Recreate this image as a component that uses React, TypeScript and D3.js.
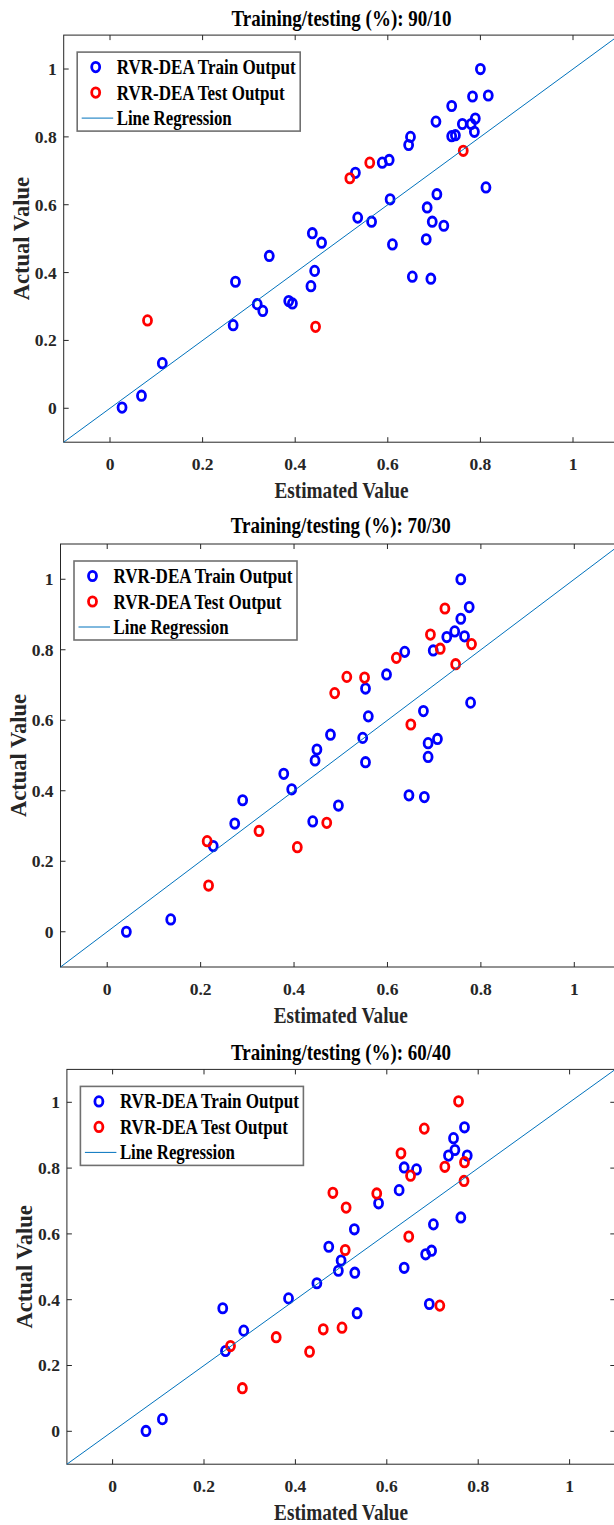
import React from "react";
import * as d3 from "d3";

// values
const titles = [
  "Training/testing (%): 90/10",
  "Training/testing (%): 70/30",
  "Training/testing (%): 60/40",
];
const legendLabels = ["RVR-DEA Train Output", "RVR-DEA Test Output", "Line Regression"];
const tickValues = [0, 0.2, 0.4, 0.6, 0.8, 1];
const tickLabels = ["0", "0.2", "0.4", "0.6", "0.8", "1"];
const regressionX = [-0.1, 1.1];
const regressionY = [-0.1, 1.1];

const train90: [number, number][] = [
  [0.8, 1.0], [0.817, 0.922], [0.783, 0.919], [0.738, 0.891], [0.704, 0.845],
  [0.761, 0.838], [0.789, 0.854], [0.78, 0.838], [0.787, 0.815], [0.738, 0.802],
  [0.746, 0.805], [0.649, 0.8], [0.645, 0.776], [0.588, 0.724], [0.603, 0.732],
  [0.53, 0.694], [0.812, 0.651], [0.706, 0.631], [0.605, 0.616], [0.685, 0.592],
  [0.696, 0.55], [0.721, 0.538], [0.535, 0.562], [0.565, 0.55], [0.61, 0.483],
  [0.683, 0.498], [0.437, 0.516], [0.457, 0.488], [0.344, 0.449], [0.442, 0.405],
  [0.434, 0.36], [0.653, 0.388], [0.693, 0.382], [0.271, 0.373], [0.318, 0.307],
  [0.33, 0.287], [0.386, 0.316], [0.394, 0.309], [0.266, 0.245], [0.113, 0.133],
  [0.068, 0.037], [0.026, 0.002],
];
const test90: [number, number][] = [
  [0.518, 0.678], [0.561, 0.724], [0.763, 0.759], [0.081, 0.259], [0.444, 0.24],
];

const train70: [number, number][] = [
  [0.757, 1.0], [0.775, 0.921], [0.757, 0.888], [0.744, 0.852], [0.727, 0.836],
  [0.765, 0.838], [0.698, 0.798], [0.637, 0.794], [0.598, 0.73], [0.553, 0.69],
  [0.559, 0.611], [0.778, 0.65], [0.677, 0.626], [0.478, 0.559], [0.547, 0.55],
  [0.687, 0.535], [0.707, 0.547], [0.449, 0.517], [0.445, 0.486], [0.553, 0.481],
  [0.687, 0.496], [0.378, 0.448], [0.395, 0.404], [0.29, 0.373], [0.646, 0.387],
  [0.679, 0.382], [0.495, 0.358], [0.44, 0.313], [0.273, 0.307], [0.227, 0.243],
  [0.136, 0.035], [0.041, 0.0],
];
const test70: [number, number][] = [
  [0.723, 0.917], [0.692, 0.843], [0.713, 0.803], [0.78, 0.816], [0.746, 0.759],
  [0.619, 0.777], [0.513, 0.723], [0.551, 0.721], [0.487, 0.677], [0.65, 0.588],
  [0.47, 0.309], [0.325, 0.286], [0.214, 0.257], [0.407, 0.24], [0.217, 0.131],
];

const train60: [number, number][] = [
  [0.77, 0.924], [0.746, 0.891], [0.749, 0.855], [0.735, 0.838], [0.776, 0.838],
  [0.638, 0.802], [0.665, 0.796], [0.627, 0.733], [0.582, 0.693], [0.762, 0.65],
  [0.702, 0.629], [0.529, 0.614], [0.473, 0.561], [0.698, 0.549], [0.685, 0.538],
  [0.5, 0.519], [0.494, 0.488], [0.53, 0.482], [0.638, 0.497], [0.447, 0.45],
  [0.385, 0.404], [0.241, 0.374], [0.535, 0.359], [0.693, 0.387], [0.287, 0.306],
  [0.247, 0.244], [0.109, 0.037], [0.073, 0.001],
];
const test60: [number, number][] = [
  [0.757, 1.003], [0.682, 0.92], [0.631, 0.845], [0.727, 0.804], [0.77, 0.818],
  [0.652, 0.777], [0.769, 0.761], [0.482, 0.725], [0.578, 0.723], [0.511, 0.68],
  [0.648, 0.592], [0.509, 0.551], [0.716, 0.382], [0.258, 0.259], [0.358, 0.286],
  [0.461, 0.31], [0.502, 0.315], [0.431, 0.242], [0.284, 0.131],
];

const FONT = "'Liberation Serif', 'Times New Roman', serif";
const AXIS = "#262626";
const LINE = "#0072BD";
const TRAIN = "#0000ff";
const TEST = "#ff0000";

const panels = [
  { title: titles[0], train: train90, test: test90, left: 63.7, right: 619.3, top: 35.1, bottom: 442.2, titleY: 26 },
  { title: titles[1], train: train70, test: test70, left: 60.5, right: 621, top: 544, bottom: 967, titleY: 533 },
  { title: titles[2], train: train60, test: test60, left: 66.9, right: 615.3, top: 1069.4, bottom: 1464.2, titleY: 1059.5 },
];

function Marker({ cx, cy, color }: { cx: number; cy: number; color: string }) {
  return <ellipse cx={cx} cy={cy} rx={4} ry={4.7} fill="none" stroke={color} strokeWidth={2.8} />;
}

function Panel({ p }: { p: (typeof panels)[number] }) {
  const x = d3.scaleLinear().domain([-0.1, 1.1]).range([p.left, p.right]);
  const y = d3.scaleLinear().domain([-0.1, 1.1]).range([p.bottom, p.top]);
  const cx = (p.left + p.right) / 2;
  const cy = (p.top + p.bottom) / 2;
  const line = d3.line<number>().x((d) => x(regressionX[d])).y((d) => y(regressionY[d]));
  const tick = 5;

  const lgX = p.left + 13.5;
  const lgY = p.top + 17;
  const rows = [lgY + 15, lgY + 40.5, lgY + 66];
  const textLengths = [179, 168, 115];

  return (
    <g>
      <text x={cx} y={p.titleY} textAnchor="middle" fontFamily={FONT} fontWeight="bold" fontSize={23.5}
        textLength={220} lengthAdjust="spacingAndGlyphs" fill="#000">{p.title}</text>

      {/* box */}
      <rect x={p.left} y={p.top} width={p.right - p.left} height={p.bottom - p.top} fill="#fff" stroke={AXIS} strokeWidth={1} />

      {tickValues.map((v, i) => (
        <g key={"xt" + i}>
          <line x1={x(v)} x2={x(v)} y1={p.bottom} y2={p.bottom - tick} stroke={AXIS} />
          <line x1={x(v)} x2={x(v)} y1={p.top} y2={p.top + tick} stroke={AXIS} />
          <text x={x(v)} y={p.bottom + 27.5} textAnchor="middle" fontFamily={FONT} fontWeight="bold" fontSize={17.5} fill={AXIS}>
            {tickLabels[i]}
          </text>
        </g>
      ))}
      {tickValues.map((v, i) => (
        <g key={"yt" + i}>
          <line x1={p.left} x2={p.left + tick} y1={y(v)} y2={y(v)} stroke={AXIS} />
          <line x1={p.right} x2={p.right - tick} y1={y(v)} y2={y(v)} stroke={AXIS} />
          <text x={p.left - 7} y={y(v)} dy="0.34em" textAnchor="end" fontFamily={FONT} fontWeight="bold" fontSize={17.5} fill={AXIS}>
            {tickLabels[i]}
          </text>
        </g>
      ))}

      <text x={cx} y={p.bottom + 56} textAnchor="middle" fontFamily={FONT} fontWeight="bold" fontSize={22.5}
        textLength={134} lengthAdjust="spacingAndGlyphs" fill={AXIS}>Estimated Value</text>
      <text transform={`translate(${p.left - 35},${cy}) rotate(-90)`} textAnchor="middle" fontFamily={FONT}
        fontWeight="bold" fontSize={22.5} fill={AXIS}>Actual Value</text>

      {p.train.map((d, i) => <Marker key={"tr" + i} cx={x(d[0])} cy={y(d[1])} color={TRAIN} />)}
      {p.test.map((d, i) => <Marker key={"te" + i} cx={x(d[0])} cy={y(d[1])} color={TEST} />)}

      <path d={line(d3.range(regressionX.length)) || ""} fill="none" stroke={LINE} strokeWidth={1} />

      {/* legend */}
      <rect x={lgX} y={lgY} width={223} height={79} fill="#fff" stroke="#707070" strokeWidth={1.6} />
      <Marker cx={p.left + 32} cy={rows[0]} color={TRAIN} />
      <Marker cx={p.left + 32} cy={rows[1]} color={TEST} />
      <line x1={p.left + 18} x2={p.left + 49.5} y1={rows[2]} y2={rows[2]} stroke={LINE} strokeWidth={1} />
      {legendLabels.map((t, i) => (
        <text key={t} x={p.left + 53} y={rows[i] + 7} fontFamily={FONT} fontWeight="bold" fontSize={20.5}
          textLength={textLengths[i]} lengthAdjust="spacingAndGlyphs" fill="#000">{t}</text>
      ))}
    </g>
  );
}

export default function App() {
  return (
    <svg width={614} height={1525} style={{ position: "absolute", left: 0, top: 0, background: "#fff" }}>
      <rect width={614} height={1525} fill="#fff" />
      {panels.map((p, i) => <Panel key={i} p={p} />)}
    </svg>
  );
}
